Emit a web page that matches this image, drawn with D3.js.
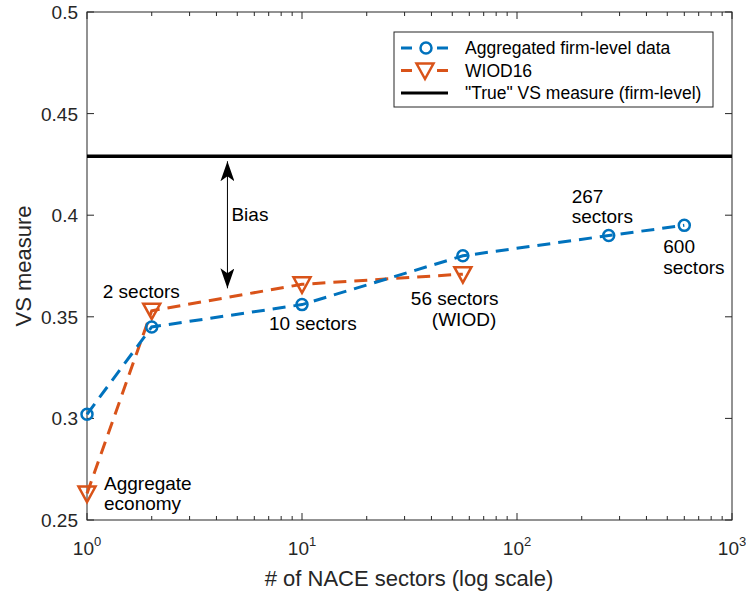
<!DOCTYPE html>
<html>
<head>
<meta charset="utf-8">
<script src="https://cdn.jsdelivr.net/npm/d3@7"></script>
<style>
  body { margin: 0; background: #fff; }
  svg text { font-family: "Liberation Sans", Arial, Helvetica, sans-serif; }
</style>
</head>
<body>
<div id="chart"></div>
<script>
// data
const sectors = [1, 2, 10, 56, 267, 600];
const firmLevel = [0.302, 0.345, 0.356, 0.380, 0.390, 0.395];
const wiodSectors = [1, 2, 10, 56];
const wiod16 = [0.263, 0.353, 0.366, 0.371];
const trueVS = 0.429;
const yTicks = [0.25, 0.3, 0.35, 0.4, 0.45, 0.5];
const xTicks = [1, 10, 100, 1000];
const biasAt = 4.5, biasLow = 0.364;

const width = 746, height = 594;
const margin = { top: 12, left: 87, right: 14, bottom: 74 };
const blue = '#0072BD', orange = '#D95319', axisCol = '#262626';

const svg = d3.select('#chart').append('svg').attr('width', width).attr('height', height);

const x = d3.scaleLog().domain([1, 1000]).range([margin.left, width - margin.right]);
const y = d3.scaleLinear().domain([0.25, 0.5]).range([height - margin.bottom, margin.top]);

// minor ticks for log axis
const minor = [];
for (let d = 1; d < 1000; d *= 10) for (let k = 2; k < 10; k++) minor.push(d * k);

const g = svg.append('g');

// frame
g.append('rect')
  .attr('x', x(1)).attr('y', y(0.5))
  .attr('width', x(1000) - x(1)).attr('height', y(0.25) - y(0.5))
  .attr('fill', 'none').attr('stroke', axisCol).attr('stroke-width', 1);

// x ticks (inside, bottom & top)
const tickLen = 7, minorLen = 4;
[[y(0.25), -1], [y(0.5), 1]].forEach(([yy, dir]) => {
  g.selectAll(null).data(xTicks).enter().append('line')
    .attr('x1', d => x(d)).attr('x2', d => x(d))
    .attr('y1', yy).attr('y2', yy + dir * tickLen)
    .attr('stroke', axisCol);
  g.selectAll(null).data(minor).enter().append('line')
    .attr('x1', d => x(d)).attr('x2', d => x(d))
    .attr('y1', yy).attr('y2', yy + dir * minorLen)
    .attr('stroke', axisCol);
});
// y ticks (inside, left & right)
[[x(1), 1], [x(1000), -1]].forEach(([xx, dir]) => {
  g.selectAll(null).data(yTicks).enter().append('line')
    .attr('x1', xx).attr('x2', xx + dir * tickLen)
    .attr('y1', d => y(d)).attr('y2', d => y(d))
    .attr('stroke', axisCol);
});

// tick labels
g.selectAll(null).data(yTicks).enter().append('text')
  .attr('x', x(1) - 9).attr('y', d => y(d) + 7)
  .attr('text-anchor', 'end').attr('font-size', 19).attr('fill', axisCol)
  .text(d => String(+d.toFixed(2)));

const xl = g.selectAll(null).data(xTicks).enter().append('text')
  .attr('x', d => x(d)).attr('y', y(0.25) + 35)
  .attr('text-anchor', 'middle').attr('font-size', 19).attr('fill', axisCol);
xl.append('tspan').text('10');
xl.append('tspan').attr('dy', -9).attr('font-size', 13).text(d => Math.round(Math.log10(d)));

// axis titles
svg.append('text')
  .attr('transform', `translate(31,${(y(0.25) + y(0.5)) / 2}) rotate(-90)`)
  .attr('text-anchor', 'middle').attr('font-size', 22).attr('fill', axisCol)
  .text('VS measure');
svg.append('text')
  .attr('x', 409).attr('y', 586)
  .attr('text-anchor', 'middle').attr('font-size', 22).attr('fill', axisCol)
  .text('# of NACE sectors (log scale)');

// true VS line
g.append('line')
  .attr('x1', x(1)).attr('x2', x(1000))
  .attr('y1', y(trueVS)).attr('y2', y(trueVS))
  .attr('stroke', '#000').attr('stroke-width', 3.5);

// bias arrow
svg.append('defs').append('marker')
  .attr('id', 'arr').attr('viewBox', '0 0 20 14')
  .attr('refX', 20).attr('refY', 7)
  .attr('markerWidth', 20).attr('markerHeight', 14)
  .attr('markerUnits', 'userSpaceOnUse')
  .attr('orient', 'auto-start-reverse')
  .append('path').attr('d', 'M0,0 L20,7 L0,14 L5,7 Z').attr('fill', '#000');
g.append('line')
  .attr('x1', x(biasAt)).attr('x2', x(biasAt))
  .attr('y1', y(trueVS) + 5).attr('y2', y(biasLow))
  .attr('stroke', '#000').attr('stroke-width', 1)
  .attr('marker-start', 'url(#arr)').attr('marker-end', 'url(#arr)');
g.append('text').attr('x', x(biasAt) + 4).attr('y', y(0.397))
  .attr('font-size', 19).text('Bias');

// series
const line = d3.line().x(d => x(d[0])).y(d => y(d[1]));
const firmPts = sectors.map((s, i) => [s, firmLevel[i]]);
const wiodPts = wiodSectors.map((s, i) => [s, wiod16[i]]);

g.append('path').datum(wiodPts).attr('d', line)
  .attr('fill', 'none').attr('stroke', orange).attr('stroke-width', 3)
  .attr('stroke-dasharray', '13,8');
g.append('path').datum(firmPts).attr('d', line)
  .attr('fill', 'none').attr('stroke', blue).attr('stroke-width', 3)
  .attr('stroke-dasharray', '13,8');

const tri = 'M-8.5,-7 L8.5,-7 L0,8.5 Z';
g.selectAll(null).data(wiodPts).enter().append('path')
  .attr('transform', d => `translate(${x(d[0])},${y(d[1])})`)
  .attr('d', tri).attr('fill', 'none').attr('stroke', orange).attr('stroke-width', 2.5)
  .attr('stroke-linejoin', 'miter');
g.selectAll(null).data(firmPts).enter().append('circle')
  .attr('cx', d => x(d[0])).attr('cy', d => y(d[1])).attr('r', 5.5)
  .attr('fill', 'none').attr('stroke', blue).attr('stroke-width', 2.5);

// annotations: offsets from their data point
const notes = [
  { s: 1, v: 0.263, dy: -4, lines: [['Aggregate', 17], ['economy', 17]] },
  { s: 2, v: 0.353, dy: -13, lines: [['2 sectors', -49]] },
  { s: 10, v: 0.356, dy: 25, lines: [['10 sectors', -33]] },
  { s: 56, v: 0.371, dy: 31, lines: [['56 sectors', -52], ['(WIOD)', -31]] },
  { s: 267, v: 0.390, dy: -33, lines: [['267', -37], ['sectors', -37]] },
  { s: 600, v: 0.395, dy: 28, lines: [['600', -21], ['sectors', -21]] }
];
notes.forEach(n => {
  const t = g.append('text').attr('font-size', 19).attr('fill', '#000')
    .attr('y', y(n.v) + n.dy);
  n.lines.forEach(([l, dx], i) => t.append('tspan')
    .attr('x', x(n.s) + dx).attr('dy', i ? 20.5 : 0).text(l));
});

// legend
const lg = svg.append('g').attr('transform', 'translate(394,32)');
lg.append('rect').attr('width', 319).attr('height', 75)
  .attr('fill', '#fff').attr('stroke', axisCol).attr('stroke-width', 1);
const items = [
  { label: 'Aggregated firm-level data', color: blue, dash: '11,25', mark: 'circle' },
  { label: 'WIOD16', color: orange, dash: '11,25', mark: 'tri' },
  { label: '"True" VS measure (firm-level)', color: '#000', dash: null, mark: null }
];
items.forEach((it, i) => {
  const cy = 16 + i * 22.5;
  const row = lg.append('g');
  row.append('line').attr('x1', 7).attr('x2', 54).attr('y1', cy).attr('y2', cy)
    .attr('stroke', it.color).attr('stroke-width', 3)
    .attr('stroke-dasharray', it.dash);
  if (it.mark === 'circle') {
    row.append('circle').attr('cx', 32).attr('cy', cy).attr('r', 5.5)
      .attr('fill', 'none').attr('stroke', it.color).attr('stroke-width', 2.5);
  } else if (it.mark === 'tri') {
    row.append('path').attr('transform', `translate(31,${cy})`).attr('d', tri)
      .attr('fill', 'none').attr('stroke', it.color).attr('stroke-width', 2.5);
  }
  row.append('text').attr('x', 71).attr('y', cy + 6).attr('font-size', 17.5)
    .attr('fill', '#000').text(it.label);
});
</script>
</body>
</html>
